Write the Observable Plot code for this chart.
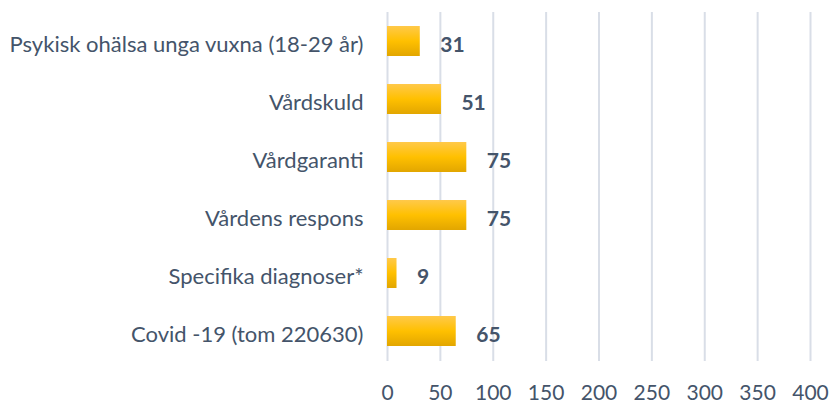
<!DOCTYPE html>
<html>
<head>
<meta charset="utf-8">
<script src="https://cdn.jsdelivr.net/npm/d3@7"></script>
<script src="https://cdn.jsdelivr.net/npm/@observablehq/plot@0.6"></script>
<style>
  html, body { margin: 0; padding: 0; background: #fff; }
  #chart { width: 829px; height: 407px; }
</style>
</head>
<body>
<div id="chart"></div>
<script>
const categories = [
  "Psykisk ohälsa unga vuxna (18-29 år)",
  "Vårdskuld",
  "Vårdgaranti",
  "Vårdens respons",
  "Specifika diagnoser*",
  "Covid -19 (tom 220630)"
];
const values = [31, 51, 75, 75, 9, 65];
const xTicks = [0, 50, 100, 150, 200, 250, 300, 350, 400];

const data = categories.map((c, i) => ({category: c, value: values[i]}));

const textColor = "#44546A";
const font = "Lato, 'Open Sans', sans-serif";

const gradientDefs = () => {
  const ns = "http://www.w3.org/2000/svg";
  const g = document.createElementNS(ns, "defs");
  g.innerHTML = `<linearGradient id="goldGrad" x1="0" y1="0" x2="0" y2="1">
      <stop offset="0" stop-color="#FFC94A"/>
      <stop offset="0.5" stop-color="#FFC000"/>
      <stop offset="1" stop-color="#E2A600"/>
    </linearGradient>`;
  return g;
};

const chart = Plot.plot({
  width: 829,
  height: 407,
  marginLeft: 387,
  marginRight: 19,
  marginTop: 12,
  marginBottom: 46,
  style: {fontFamily: font, background: "#fff", overflow: "visible"},
  x: {domain: [0, 400], ticks: xTicks},
  y: {domain: categories, paddingInner: 0.48, paddingOuter: 0.24, label: null},
  marks: [
    gradientDefs,
    Plot.gridX(xTicks, {stroke: "#D9DEE7", strokeOpacity: 1, strokeWidth: 2}),
    Plot.barX(data, {x: "value", y: "category", fill: "url(#goldGrad)"}),
    Plot.text(data, {x: "value", y: "category", text: d => String(d.value), textAnchor: "start", dx: 20, dy: 4, fontSize: 21, fontWeight: "bold", fill: textColor}),
    Plot.axisX({ticks: xTicks, tickSize: 0, tickPadding: 24, fontSize: 21, color: textColor, label: null}),
    Plot.axisY({tickSize: 0, tickPadding: 24, fontSize: 22, color: textColor, label: null, dy: 3})
  ]
});
document.getElementById("chart").appendChild(chart);
</script>
</body>
</html>
